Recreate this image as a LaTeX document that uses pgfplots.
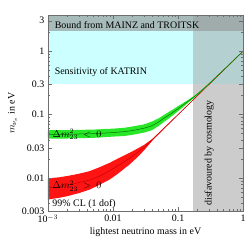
\documentclass[border=0pt]{standalone}
\usepackage{pgfplots}
\pgfplotsset{compat=1.18}
\usepackage{fontspec}
\setmainfont{Liberation Serif}
\definecolor{katrin}{RGB}{204,255,255}
\definecolor{katcos}{RGB}{180,208,208}
\definecolor{boundL}{RGB}{168,187,187}
\definecolor{boundR}{RGB}{160,172,172}
\definecolor{cosmo}{RGB}{204,204,204}
\definecolor{gband}{RGB}{40,230,40}
\definecolor{gline}{RGB}{0,120,0}
\definecolor{rband}{RGB}{255,20,20}
\definecolor{rline}{RGB}{200,0,0}
\definecolor{frame}{RGB}{110,110,110}
\begin{document}
\begin{tikzpicture}
\path (-48bp,-36bp) rectangle (201bp,212bp);
\begin{axis}[
  at={(0,0)}, anchor=south west,
  scale only axis, width=196bp, height=197bp,
  xmode=log, ymode=log,
  xmin=0.001, xmax=1, ymin=0.003, ymax=3.7,
  axis on top,
  axis line style={frame},
  every tick/.style={frame},
  tick align=inside,
  major tick length=4bp, minor tick length=2bp,
  xtick={0.001,0.01,0.1,1},
  xticklabels={10$^{-3}$,0.01,0.1,1},
  minor xtick={0.002,0.003,0.004,0.005,0.006,0.007,0.008,0.009,0.02,0.03,0.04,0.05,0.06,0.07,0.08,0.09,0.2,0.3,0.4,0.5,0.6,0.7,0.8,0.9},
  ytick={0.003,0.01,0.03,0.1,0.3,1,3},
  yticklabels={0.003,0.01,0.03,0.1,0.3,1,3},
  minor ytick={0.004,0.005,0.006,0.007,0.008,0.009,0.02,0.04,0.05,0.06,0.07,0.08,0.09,0.2,0.4,0.5,0.6,0.7,0.8,0.9,2},
  /pgf/number format/assume math mode=true,
  tick label style={font=\fontsize{10}{12}\selectfont},
  label style={font=\fontsize{10}{12}\selectfont},
  xlabel={lightest neutrino mass in eV},
  ylabel={$m_{\nu_e}$ in eV},
  xlabel style={yshift=2bp},
  ylabel style={yshift=-2bp},
]
% background regions
\addplot[fill=katrin, draw=none] coordinates {(0.001,0.3) (0.17,0.3) (0.17,2.1) (0.001,2.1)} -- cycle;
\addplot[fill=katcos, draw=none] coordinates {(0.17,0.3) (1,0.3) (1,2.1) (0.17,2.1)} -- cycle;
\addplot[fill=boundL, draw=none] coordinates {(0.001,2.1) (0.17,2.1) (0.17,3.7) (0.001,3.7)} -- cycle;
\addplot[fill=boundR, draw=none] coordinates {(0.17,2.1) (1,2.1) (1,3.7) (0.17,3.7)} -- cycle;
\addplot[fill=cosmo, draw=none] coordinates {(0.17,0.003) (1,0.003) (1,0.3) (0.17,0.3)} -- cycle;
% normal hierarchy band
\addplot[fill=rband, draw=none] coordinates {
 (0.001,0.0099) (0.0015,0.0103) (0.002,0.0108) (0.003,0.0117) (0.0044,0.0129) (0.006,0.0146) (0.0089,0.0174) (0.012,0.0204) (0.018,0.025) (0.024,0.0293) (0.03,0.0333) (0.04,0.0412) (0.05,0.0511) (0.1,0.1008) (1,1.002)
 (1,0.998) (0.1,0.0992) (0.05,0.0489) (0.04,0.0386) (0.03,0.0273) (0.024,0.0215) (0.018,0.0164) (0.012,0.0118) (0.0089,0.0095) (0.006,0.0077) (0.0044,0.0066) (0.003,0.0058) (0.002,0.0052) (0.0015,0.0049) (0.001,0.0046)} -- cycle;
\addplot[rline, line width=0.5pt] coordinates {
 (0.001,0.0070) (0.0015,0.0073) (0.002,0.0078) (0.003,0.0085) (0.0044,0.0093) (0.006,0.0106) (0.0089,0.013) (0.012,0.0157) (0.018,0.0205) (0.024,0.0254) (0.03,0.0303) (0.04,0.0399) (0.05,0.05) (0.1,0.1) (1,1)};
% inverted hierarchy band
\addplot[fill=gband, draw=none] coordinates {
 (0.001,0.057) (0.002,0.057) (0.005,0.058) (0.01,0.060) (0.015,0.062) (0.02,0.065) (0.03,0.070) (0.04,0.078) (0.05,0.087) (0.06,0.098) (0.07,0.108) (0.085,0.122) (0.1,0.136) (0.12,0.152) (0.15,0.176) (0.18,0.200) (0.2,0.218) (0.25,0.264) (0.3,0.312) (0.5,0.507) (1,1.003)
 (1,0.997) (0.5,0.501) (0.3,0.303) (0.25,0.254) (0.2,0.206) (0.18,0.188) (0.15,0.160) (0.12,0.132) (0.1,0.113) (0.085,0.099) (0.07,0.085) (0.06,0.076) (0.05,0.066) (0.04,0.057) (0.03,0.052) (0.02,0.048) (0.015,0.046) (0.01,0.045) (0.005,0.043) (0.002,0.042) (0.001,0.042)} -- cycle;
\addplot[gline, line width=0.5pt] coordinates {
 (0.001,0.049) (0.002,0.049) (0.005,0.050) (0.01,0.052) (0.015,0.054) (0.02,0.056) (0.03,0.061) (0.04,0.067) (0.05,0.076) (0.06,0.087) (0.07,0.096) (0.085,0.110) (0.1,0.124) (0.12,0.142) (0.15,0.168) (0.18,0.194) (0.2,0.212) (0.25,0.259) (0.3,0.307) (0.5,0.504) (1,1)};
% labels
\node[anchor=west, font=\fontsize{10}{12}\selectfont] at (axis cs:0.00113,2.59) {Bound from MAINZ and TROITSK};
\node[anchor=west, font=\fontsize{10}{12}\selectfont] at (axis cs:0.00113,0.47) {Sensitivity of KATRIN};
\node[rotate=90, font=\fontsize{10}{12}\selectfont] at (axis cs:0.30,0.0248) {disfavoured by cosmology};
\node[anchor=west, font=\fontsize{10}{12}\selectfont] at (axis cs:0.00105,0.049) {$\Delta m^2_{23}\ <\ 0$};
\node[anchor=west, font=\fontsize{10}{12}\selectfont] at (axis cs:0.00105,0.0075) {$\Delta m^2_{23}\ >\ 0$};
\node[font=\fontsize{10}{12}\selectfont] at (axis cs:0.0036,0.0039) {99\% CL (1 dof)};
\end{axis}
\end{tikzpicture}
\end{document}
